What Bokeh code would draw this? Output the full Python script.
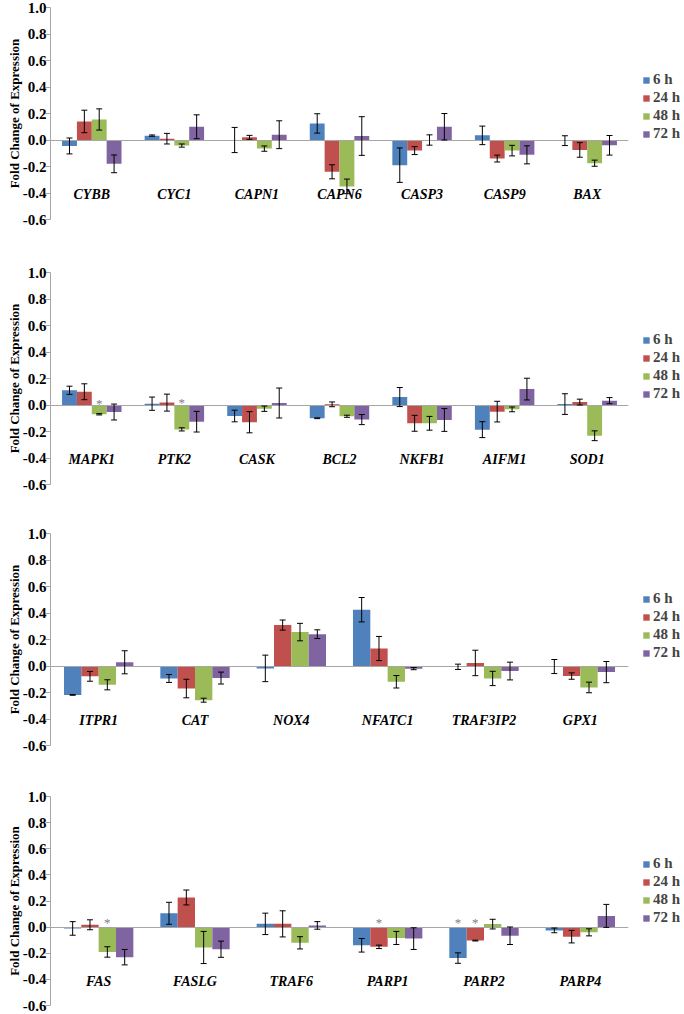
from bokeh.plotting import figure
from bokeh.models import (ColumnDataSource, FactorRange, Range1d, Whisker, TeeHead,
                          Legend, LegendItem, FixedTicker, NumeralTickFormatter)
from bokeh.transform import dodge
from bokeh.layouts import column
from bokeh.embed import file_html
from bokeh.resources import INLINE
from bokeh.core.properties import value

TIMES = ["6 h", "24 h", "48 h", "72 h"]
COLORS = ["#4F81BD", "#C0504D", "#9BBB59", "#8064A2"]
Y_TICKS = [-0.6, -0.4, -0.2, 0.0, 0.2, 0.4, 0.6, 0.8, 1.0]

# ---- Panel 1 ----
genes_1 = ["CYBB", "CYC1", "CAPN1", "CAPN6", "CASP3", "CASP9", "BAX"]
h6_1 = [-0.045, 0.033, 0.0, 0.125, -0.19, 0.035, -0.005]
h24_1 = [0.14, 0.01, 0.02, -0.24, -0.08, -0.14, -0.075]
h48_1 = [0.155, -0.042, -0.065, -0.35, 0.0, -0.08, -0.175]
h72_1 = [-0.18, 0.10, 0.04, 0.03, 0.10, -0.112, -0.04]
e6_1 = [0.06, 0.005, 0.095, 0.073, 0.13, 0.07, 0.037]
e24_1 = [0.085, 0.04, 0.015, 0.053, 0.03, 0.026, 0.055]
e48_1 = [0.08, 0.012, 0.02, 0.055, 0.039, 0.04, 0.023]
e72_1 = [0.067, 0.09, 0.105, 0.146, 0.1, 0.068, 0.074]
stars_1 = []

# ---- Panel 2 ----
genes_2 = ["MAPK1", "PTK2", "CASK", "BCL2", "NKFB1", "AIFM1", "SOD1"]
h6_2 = [0.111, 0.01, -0.083, -0.10, 0.06, -0.186, 0.007]
h24_2 = [0.10, 0.018, -0.13, 0.005, -0.138, -0.05, 0.022]
h48_2 = [-0.07, -0.184, -0.028, -0.085, -0.138, -0.033, -0.232]
h72_2 = [-0.053, -0.126, 0.015, -0.11, -0.113, 0.12, 0.033]
e6_2 = [0.031, 0.05, 0.044, 0.003, 0.072, 0.06, 0.078]
e24_2 = [0.06, 0.064, 0.08, 0.018, 0.06, 0.078, 0.022]
e48_2 = [0.005, 0.012, 0.02, 0.008, 0.052, 0.018, 0.037]
e72_2 = [0.06, 0.078, 0.113, 0.038, 0.086, 0.082, 0.023]
stars_2 = [("MAPK1", "48 h", 0.065), ("PTK2", "48 h", 0.075)]

# ---- Panel 3 ----
genes_3 = ["ITPR1", "CAT", "NOX4", "NFATC1", "TRAF3IP2", "GPX1"]
h6_3 = [-0.218, -0.094, -0.018, 0.425, -0.006, -0.004]
h24_3 = [-0.078, -0.17, 0.309, 0.132, 0.023, -0.076]
h48_3 = [-0.142, -0.258, 0.256, -0.119, -0.094, -0.162]
h72_3 = [0.028, -0.091, 0.24, -0.02, -0.038, -0.046]
e6_3 = [0.003, 0.03, 0.1, 0.092, 0.02, 0.053]
e24_3 = [0.037, 0.07, 0.038, 0.091, 0.096, 0.024]
e48_3 = [0.038, 0.015, 0.066, 0.047, 0.054, 0.04]
e72_3 = [0.087, 0.045, 0.033, 0.008, 0.067, 0.08]
stars_3 = []

# ---- Panel 4 ----
genes_4 = ["FAS", "FASLG", "TRAF6", "PARP1", "PARP2", "PARP4"]
h6_4 = [-0.01, 0.106, 0.025, -0.139, -0.237, -0.025]
h24_4 = [0.018, 0.227, 0.025, -0.151, -0.103, -0.073]
h48_4 = [-0.19, -0.156, -0.12, -0.083, 0.023, -0.04]
h72_4 = [-0.23, -0.169, 0.013, -0.088, -0.066, 0.086]
e6_4 = [0.052, 0.084, 0.082, 0.052, 0.04, 0.018]
e24_4 = [0.038, 0.057, 0.1, 0.013, 0.003, 0.048]
e48_4 = [0.04, 0.123, 0.047, 0.05, 0.037, 0.027]
e72_4 = [0.059, 0.062, 0.029, 0.083, 0.067, 0.088]
stars_4 = [("FAS", "48 h", 0.088), ("PARP1", "24 h", 0.088),
           ("PARP2", "6 h", 0.088), ("PARP2", "24 h", 0.088)]

OFFSETS = [-0.27, -0.09, 0.09, 0.27]
BAR_W = 0.18
SERIF = "Liberation Serif"
AXIS_GRAY = "#A6A6A6"
FRAME_W = 578


def make_panel(genes, vals, errs, stars, frame_h, top, bottom, legend_y):
    p = figure(x_range=FactorRange(*genes), y_range=Range1d(-0.6, 1.0),
               frame_width=FRAME_W, frame_height=frame_h,
               output_backend="svg", toolbar_location=None,
               min_border_left=50, min_border_right=49, min_border_top=top,
               min_border_bottom=bottom)
    data = dict(gene=genes)
    for i in range(4):
        data[f"v{i}"] = vals[i]
        data[f"u{i}"] = [v + e for v, e in zip(vals[i], errs[i])]
        data[f"l{i}"] = [v - e for v, e in zip(vals[i], errs[i])]
    src = ColumnDataSource(data)
    bars = []
    for i in range(4):
        r = p.vbar(x=dodge("gene", OFFSETS[i], range=p.x_range), top=f"v{i}", bottom=0,
                   width=BAR_W, fill_color=COLORS[i], line_color=None, source=src)
        bars.append(r)
        w = Whisker(base=dodge("gene", OFFSETS[i], range=p.x_range), upper=f"u{i}",
                    lower=f"l{i}", source=src, line_color="black", line_width=1,
                    upper_head=TeeHead(size=6, line_color="black", line_width=1),
                    lower_head=TeeHead(size=6, line_color="black", line_width=1),
                    level="annotation")
        p.add_layout(w)
    for i, t in enumerate(TIMES):
        sel = [s for s in stars if s[1] == t]
        if not sel:
            continue
        ssrc = ColumnDataSource(dict(gene=[s[0] for s in sel], y=[s[2] for s in sel]))
        p.text(x=dodge("gene", OFFSETS[i], range=p.x_range), y="y", text=value("*"),
               source=ssrc, text_font=value(SERIF), text_font_size="13px",
               text_color="#808080", text_align="center", text_baseline="alphabetic",
               y_offset=7)

    xa = p.xaxis[0]
    xa.fixed_location = 0
    xa.axis_line_color = AXIS_GRAY
    xa.major_tick_line_color = None
    xa.minor_tick_line_color = None
    xa.major_tick_out = 0
    xa.major_tick_in = 0
    xa.major_label_standoff = 47
    xa.major_label_text_font = SERIF
    xa.major_label_text_font_style = "bold italic"
    xa.major_label_text_font_size = "14px"
    xa.major_label_text_color = "black"

    ya = p.yaxis[0]
    ya.ticker = FixedTicker(ticks=Y_TICKS)
    ya.formatter = NumeralTickFormatter(format="0.0")
    ya.axis_line_color = AXIS_GRAY
    ya.major_tick_line_color = AXIS_GRAY
    ya.major_tick_out = 5
    ya.major_tick_in = 0
    ya.minor_tick_line_color = None
    ya.major_label_standoff = -1
    ya.major_label_text_font = SERIF
    ya.major_label_text_font_style = "bold"
    ya.major_label_text_font_size = "15px"
    ya.major_label_text_color = "black"
    ya.axis_label = "Fold Change of Expression"
    ya.axis_label_standoff = -2
    ya.axis_label_text_font = SERIF
    ya.axis_label_text_font_style = "bold"
    ya.axis_label_text_font_size = "13px"
    ya.axis_label_text_color = "black"

    p.xgrid.visible = False
    p.ygrid.visible = False
    p.outline_line_color = None

    legend = Legend(items=[LegendItem(label=TIMES[i], renderers=[bars[i]]) for i in range(4)],
                    location=(14, legend_y), glyph_width=8, glyph_height=8,
                    label_height=14, spacing=1, padding=0, margin=0,
                    border_line_color=None, background_fill_alpha=0,
                    label_text_font=SERIF, label_text_font_style="bold",
                    label_text_font_size="15px", label_standoff=3)
    p.add_layout(legend, "right")
    return p


p1 = make_panel(genes_1, [h6_1, h24_1, h48_1, h72_1], [e6_1, e24_1, e48_1, e72_1], stars_1,
                212, 7, 46, 77)
p2 = make_panel(genes_2, [h6_2, h24_2, h48_2, h72_2], [e6_2, e24_2, e48_2, e72_2], stars_2,
                212, 7, 42, 82)
p3 = make_panel(genes_3, [h6_3, h24_3, h48_3, h72_3], [e6_3, e24_3, e48_3, e72_3], stars_3,
                212, 7, 44, 84)
p4 = make_panel(genes_4, [h6_4, h24_4, h48_4, h72_4], [e6_4, e24_4, e48_4, e72_4], stars_4,
                209, 7, 9, 79)

layout = column(p1, p2, p3, p4)
open("out.html", "w").write(file_html(layout, INLINE))
